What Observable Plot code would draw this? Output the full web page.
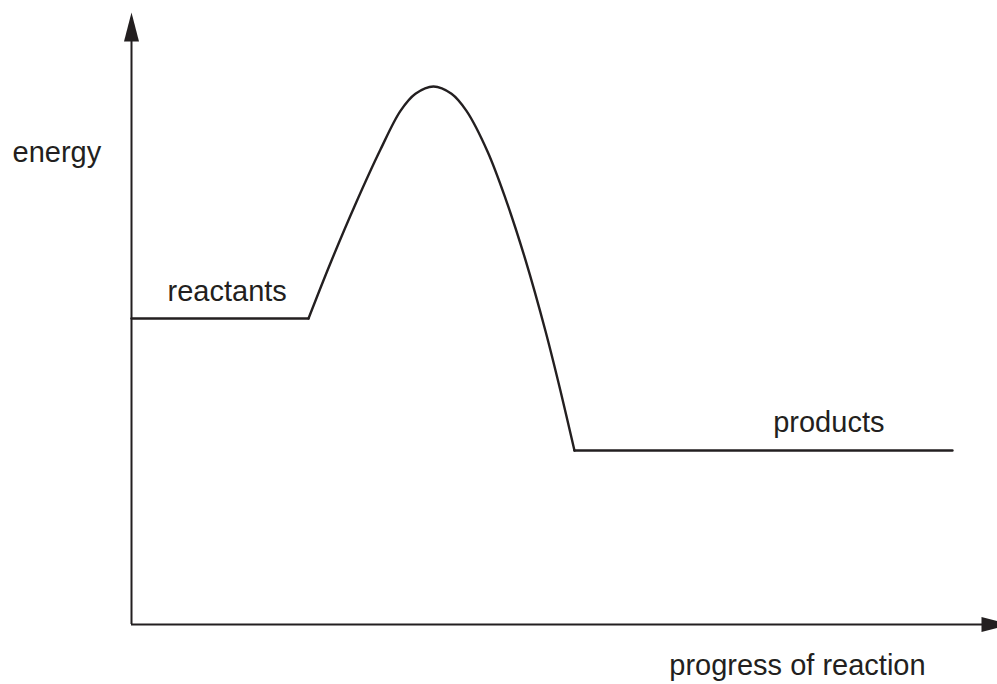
<!DOCTYPE html>
<html>
<head>
<meta charset="utf-8">
<script src="https://cdn.jsdelivr.net/npm/d3@7"></script>
<script src="https://cdn.jsdelivr.net/npm/@observablehq/plot@0.6"></script>
<style>
  html, body { margin: 0; padding: 0; background: #fff; }
  #chart svg { display: block; }
</style>
</head>
<body>
<div id="chart"></div>
<script>
// Energy profile (arbitrary units: progress 0–100, energy 0–100)
const reactantsLevel = [{progress: 0, energy: 50}, {progress: 20.44, energy: 50}];
const humpProgress = [20.44, 22.98, 25.87, 28.75, 31.06, 32.79, 34.87, 36.95, 38.68, 41.11, 43.19, 45.50, 47.81, 49.54, 51.15];
const humpEnergy   = [50.00, 59.07, 68.71, 77.61, 83.92, 86.72, 87.91, 86.72, 83.92, 77.29, 69.59, 59.54, 47.91, 38.15, 28.43];
const productsLevel = [{progress: 51.15, energy: 28.43}, {progress: 94.8, energy: 28.43}];

const labelTexts = ["energy", "reactants", "products", "progress of reaction"];
const labelProgress = [-13.74, 4.16, 74.1, 62.1];
const labelEnergy = [75.6, 52.9, 31.4, -8.3];

const hump = humpProgress.map((p, i) => ({progress: p, energy: humpEnergy[i]}));
const labels = labelTexts.map((t, i) => ({text: t, progress: labelProgress[i], energy: labelEnergy[i]}));

const ink = "#231f20";

// filled, elongated arrowhead with its tip at the anchor point, pointing up
const arrowHead = {
  draw(context) {
    context.moveTo(0, 0);
    context.lineTo(7.5, 29);
    context.lineTo(-7.5, 29);
    context.closePath();
  }
};
const arrowHeads = [
  {progress: 0, energy: 100, rotate: 0},
  {progress: 101.5, energy: 0, rotate: 90}
];

const chart = Plot.plot({
  width: 997,
  height: 684,
  marginLeft: 131,
  marginRight: 0,
  marginTop: 12,
  marginBottom: 60,
  x: {domain: [0, 100], axis: null},
  y: {domain: [0, 100], axis: null},
  style: {fontFamily: "'Liberation Sans', Arial, sans-serif", background: "#fff"},
  marks: [
    Plot.ruleX([0], {y1: 0, y2: 97, stroke: ink, strokeWidth: 2}),
    Plot.ruleY([0], {x1: 0, x2: 99, stroke: ink, strokeWidth: 2}),
    Plot.dot(arrowHeads, {x: "progress", y: "energy", rotate: "rotate", symbol: arrowHead, fill: ink, stroke: "none"}),
    Plot.line(reactantsLevel, {x: "progress", y: "energy", stroke: ink, strokeWidth: 2.4}),
    Plot.line(hump, {x: "progress", y: "energy", stroke: ink, strokeWidth: 2.4, curve: "catmull-rom", strokeLinejoin: "miter"}),
    Plot.line(productsLevel, {x: "progress", y: "energy", stroke: ink, strokeWidth: 2.4}),
    Plot.text(labels, {x: "progress", y: "energy", text: "text", textAnchor: "start", lineAnchor: "bottom", fontSize: 29, fill: ink})
  ]
});
document.getElementById("chart").appendChild(chart);
</script>
</body>
</html>
